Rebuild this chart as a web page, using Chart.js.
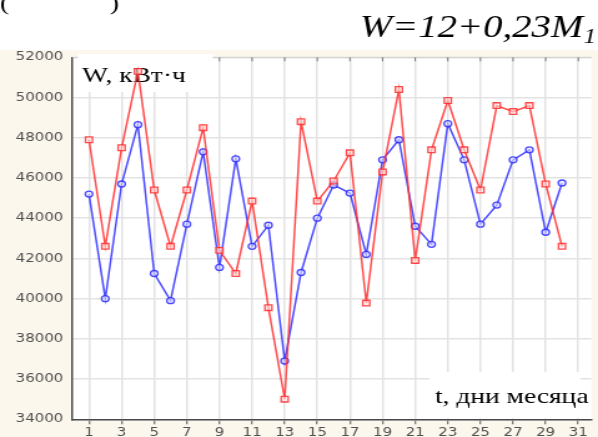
<!DOCTYPE html>
<html>
<head>
<meta charset="utf-8">
<script src="https://cdn.jsdelivr.net/npm/chart.js@4.4.1/dist/chart.umd.min.js"></script>
<style>
html, body { margin: 0; padding: 0; background: #fff; overflow: hidden; }
#wrap { position: absolute; left: 0; top: 0; width: 479px; height: 437px;
        transform: scaleX(1.2484); transform-origin: 0 0; }
</style>
</head>
<body>
<div id="wrap"><canvas id="chart" width="479" height="437"></canvas></div>
<script>
// days of the month
var days = [1, 2, 3, 4, 5, 6, 7, 8, 9, 10, 11, 12, 13, 14, 15,
            16, 17, 18, 19, 20, 21, 22, 23, 24, 25, 26, 27, 28, 29, 30];
// red: measured consumption, kWh
var wActual = [47900, 42600, 47500, 51300, 45400, 42600, 45400, 48500, 42400, 41250,
               44850, 39550, 35000, 48800, 44850, 45850, 47250, 39780, 46300, 50400,
               41900, 47400, 49850, 47400, 45400, 49600, 49300, 49600, 45700, 42600];
// blue: model W = 12 + 0.23*M1
var wModel = [45200, 40000, 45700, 48650, 41250, 39900, 43700, 47300, 41550, 46950,
              42600, 43650, 36900, 41300, 44000, 45650, 45250, 42200, 46900, 47900,
              43600, 42700, 48700, 46900, 43700, 44650, 46900, 47400, 43300, 45750];
var dayTicks = [1, 3, 5, 7, 9, 11, 13, 15, 17, 19, 21, 23, 25, 27, 29, 31];
var yMin = 34000, yMax = 52000, yStep = 2000;

var cream = '#fcf7ec';

function toPoints(vals) {
    return vals.map(function (v, i) { return { x: days[i], y: v }; });
}

var decor = {
    id: 'decor',
    beforeDraw: function (chart) {
        var ctx = chart.ctx, a = chart.chartArea;
        ctx.save();
        ctx.fillStyle = '#fff';
        ctx.fillRect(0, 0, chart.width, chart.height);
        ctx.fillStyle = cream;
        ctx.fillRect(0, 50, chart.width, chart.height - 50);
        ctx.fillStyle = '#fff';
        ctx.fillRect(a.left, a.top, a.right - a.left, a.bottom - a.top);
        ctx.restore();
    },
    beforeDatasetsDraw: function (chart) {
        var ctx = chart.ctx, a = chart.chartArea, xs = chart.scales.x;
        ctx.save();
        // top frame line and small ticks
        ctx.strokeStyle = '#cfcfcf';
        ctx.lineWidth = 1;
        ctx.beginPath();
        ctx.moveTo(a.left, a.top);
        ctx.lineTo(a.right, a.top);
        ctx.stroke();
        ctx.strokeStyle = '#777';
        dayTicks.forEach(function (d) {
            var px = xs.getPixelForValue(d);
            ctx.beginPath();
            ctx.moveTo(px, a.top);
            ctx.lineTo(px, a.top + 4);
            ctx.stroke();
        });
        // label boxes
        ctx.fillStyle = '#fff';
        ctx.fillRect(62.5, 54, 108, 38);
        ctx.fillRect(344, 372, 121, a.bottom - 373);
        ctx.fillStyle = '#000';
        ctx.font = '22px "Liberation Serif"';
        ctx.textBaseline = 'alphabetic';
        ctx.fillText('W, кВт·ч', 65.7, 81.7);
        ctx.fillText('t, дни месяца', 348.4, 403);
        ctx.restore();
    },
    afterDraw: function (chart) {
        var ctx = chart.ctx;
        ctx.save();
        ctx.fillStyle = '#000';
        ctx.textBaseline = 'alphabetic';
        // cut-off line from text above
        ctx.font = '22px "Liberation Serif"';
        ctx.fillText('(', 0, 9.5);
        ctx.fillText(')', 88, 9.5);
        // formula
        ctx.font = 'italic 20px "Liberation Serif"';
        var subW = ctx.measureText('1').width;
        var xEnd = 477.5;
        ctx.fillText('1', xEnd - subW, 43);
        ctx.font = 'italic 31px "Liberation Serif"';
        ctx.textAlign = 'right';
        ctx.fillText('W=12+0,23M', xEnd - subW - 0.5, 36.7);
        ctx.restore();
    }
};

var tickFont = { family: 'DejaVu Sans', size: 12 };

new Chart(document.getElementById('chart'), {
    type: 'line',
    data: {
        datasets: [{
            label: 'W факт',
            data: toPoints(wActual),
            borderColor: 'rgba(255,45,45,0.85)',
            backgroundColor: 'rgba(255,225,225,0.6)',
            borderWidth: 1.5,
            pointStyle: 'rect',
            pointRadius: 4,
            pointBorderWidth: 1.3,
            tension: 0
        }, {
            label: 'W расч',
            data: toPoints(wModel),
            borderColor: 'rgba(45,45,255,0.85)',
            backgroundColor: 'rgba(225,225,255,0.6)',
            borderWidth: 1.5,
            pointStyle: 'circle',
            pointRadius: 3,
            pointBorderWidth: 1.3,
            tension: 0
        }]
    },
    options: {
        responsive: false,
        animation: false,
        devicePixelRatio: 1,
        layout: { padding: { top: 57.3, left: 0, right: 0, bottom: 0 } },
        plugins: { legend: { display: false }, tooltip: { enabled: false } },
        scales: {
            x: {
                type: 'linear',
                min: 0,
                max: 31.8,
                afterBuildTicks: function (scale) {
                    scale.ticks = dayTicks.map(function (d) { return { value: d }; });
                },
                afterFit: function (scale) { scale.height = 17.7; },
                grid: { color: '#e3e3e3', lineWidth: 1.5, drawTicks: true, tickLength: 5,
                        tickColor: '#555', tickWidth: 1 },
                border: { color: '#4a4a4a', width: 1.5 },
                ticks: { autoSkip: false, maxRotation: 0, padding: 1, color: '#505050', font: tickFont }
            },
            y: {
                min: yMin,
                max: yMax,
                afterFit: function (scale) { scale.width = 58.2; },
                grid: { color: '#e3e3e3', lineWidth: 1.5, drawTicks: false },
                border: { color: '#4a4a4a', width: 1.5 },
                ticks: {
                    stepSize: yStep,
                    padding: 7.5,
                    color: '#505050',
                    font: tickFont,
                    callback: function (v) { return String(v); }
                }
            }
        }
    },
    plugins: [decor]
});
</script>
</body>
</html>
